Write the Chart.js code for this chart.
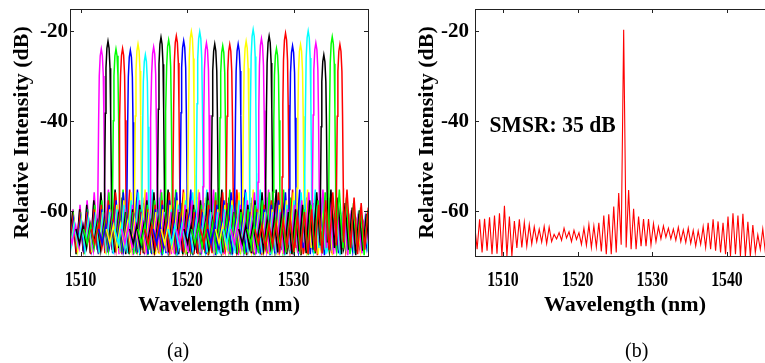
<!DOCTYPE html>
<html>
<head>
<meta charset="utf-8">
<script src="https://cdn.jsdelivr.net/npm/chart.js@4.4.1/dist/chart.umd.min.js"></script>
<style>
  html, body { margin: 0; padding: 0; background: #fff; overflow: hidden; }
  #wrap { position: relative; width: 765px; height: 363px; overflow: hidden; background: #fff; }
  #ca { position: absolute; left: 0; top: 0; }
  #cb { position: absolute; left: 380px; top: 0; }
  .cap { position: absolute; top: 338px; font: 20px "Liberation Serif", "Times New Roman", serif; line-height: 24px; color: #000; }
</style>
</head>
<body>
<div id="wrap">
  <canvas id="ca" width="380" height="363"></canvas>
  <canvas id="cb" width="400" height="363"></canvas>
  <div class="cap" style="left:167px">(a)</div>
  <div class="cap" style="left:625px">(b)</div>
</div>
<script>
// ---- data ----

// (a) 32 lasing channels: centre wavelength (nm) and peak level (dB)
const CHANNEL_NM = [1511.94, 1512.57, 1513.32, 1513.94, 1514.67, 1515.39, 1516.08, 1516.86,
  1517.55, 1518.27, 1518.99, 1519.68, 1520.40, 1521.19, 1521.82, 1522.60,
  1523.35, 1524.01, 1524.80, 1525.55, 1526.21, 1526.99, 1527.71, 1528.40,
  1529.25, 1529.91, 1530.66, 1531.38, 1532.10, 1532.85, 1533.64, 1534.36];
const CHANNEL_PEAK_DB = [-23.9, -22.2, -23.9, -23.8, -24.2, -22.8, -25.2, -23.5,
  -21.3, -21.9, -21.0, -22.1, -20.0, -20.1, -22.6, -22.8,
  -23.2, -22.9, -22.8, -22.2, -19.6, -21.6, -21.0, -23.8,
  -20.4, -23.2, -22.9, -19.9, -22.6, -25.2, -21.2, -22.9];
// matlab colour order used in the plot: m k g r b y c
const CHANNEL_COLORS = ["#ff00ff", "#000000", "#00ff00", "#ff0000", "#0000ff", "#ffff00", "#00ffff"];

// main lobe of one channel: offset from centre (nm) and drop below its peak (dB)
const LOBE_OFFSET_NM = [-0.32, -0.25, -0.19, -0.1, 0, 0.1, 0.19, 0.25, 0.32];
const LOBE_DROP_DB = [32, 16, 6, 1.5, 0, 1.5, 6, 16, 32];

// ringing either side of a channel, dB, one value every half period
const RING_STEP_NM = 0.333;
const RING_LEFT_DB = [-67.5, -55.8, -68.6, -57.6, -69.4, -58.6, -69.0, -59.6, -69.6, -60.2, -68.4, -61.0,
  -69.2, -61.6, -68.0, -62.0, -68.8, -62.6, -67.6, -63.0, -68.2, -63.2, -67.2, -64.0];
const RING_RIGHT_DB = [-67.0, -55.2, -68.2, -57.0, -69.6, -58.2, -68.6, -59.2, -69.8, -59.8, -68.8, -60.6,
  -69.4, -61.4, -68.2, -61.8, -69.0, -62.4, -67.8, -62.8, -68.4, -63.4, -67.4, -63.8];

// (b) single channel spectrum, sampled every half ripple period
const SPEC_B_START_NM = 1506.2;
const SPEC_B_STEP_NM = 0.3327;
const SPEC_B_DB = [
  -63.0, -68.5, -61.8, -69.2, -61.7, -68.8, -61.4, -69.6, -61.0, -69.5,
  -60.5, -70.0, -58.8, -70.0, -61.2, -70.0, -62.2, -68.2, -61.8, -68.1,
  -62.5, -67.8, -63.0, -67.3, -63.5, -66.8, -64.0, -66.9, -63.4, -67.2,
  -63.6, -66.8, -65.2, -66.2, -64.8, -66.5, -63.8, -66.0, -64.6, -66.8,
  -64.3, -66.3, -64.8, -67.4, -63.8, -67.6, -63.0, -68.1, -63.3, -68.0,
  -62.6, -69.0, -61.0, -69.6, -60.7, -69.6, -59.0, -69.2, -56.0, -67.5,
  -19.6,
  -68.1, -55.3, -68.5, -59.5, -68.5, -61.2, -67.8, -61.8, -67.8, -61.8,
  -67.5, -62.8, -66.8, -63.5, -66.2, -63.3, -65.8, -63.8, -66.2, -64.0,
  -66.5, -63.6, -66.8, -64.2, -67.0, -63.8, -67.2, -64.3, -67.8, -64.4,
  -67.4, -63.5, -68.1, -62.6, -68.5, -61.8, -68.8, -62.3, -69.2, -62.6,
  -69.6, -61.2, -70.0, -60.5, -69.6, -61.0, -70.0, -60.6, -70.0, -62.4,
  -70.0, -63.1, -69.2, -65.3, -68.5, -64.0, -69.0, -63.5, -68.5, -64.0];

const XTICKS_A = [1510, 1520, 1530];
const XTICKS_B = [1510, 1520, 1530, 1540];
const YTICKS = [-60, -40, -20];
const SMSR_TEXT = "SMSR: 35 dB";
const SMSR_AT = [1508.2, -41];

// ---- chart setup ----
const SERIF = '"Liberation Serif", "Times New Roman", serif';
Chart.defaults.font.family = SERIF;
Chart.defaults.color = "#000";

function channelTrace(i) {
  const c = CHANNEL_NM[i];
  const p = CHANNEL_PEAK_DB[i];
  const pts = [];
  for (let j = RING_LEFT_DB.length; j >= 1; j--) {
    pts.push({ x: c - j * RING_STEP_NM, y: RING_LEFT_DB[j - 1] });
  }
  LOBE_OFFSET_NM.forEach((o, k) => pts.push({ x: c + o, y: p - LOBE_DROP_DB[k] }));
  RING_RIGHT_DB.forEach((v, j) => pts.push({ x: c + (j + 1) * RING_STEP_NM, y: v }));
  return pts;
}

// draw text squeezed sideways, the figure's fonts are narrow
function narrowText(ctx, text, x, y, squeeze) {
  ctx.save();
  ctx.translate(x, y);
  ctx.scale(squeeze, 1);
  ctx.fillText(text, 0, 0);
  ctx.restore();
}

// box round the plot with matlab style inward ticks, plus the x tick labels
const framePlugin = {
  id: "frame",
  afterDatasetsDraw(chart) {
    const { ctx, chartArea: a, scales: { x, y } } = chart;
    const len = 4;
    ctx.save();
    ctx.strokeStyle = "#222";
    ctx.lineWidth = 1;
    ctx.strokeRect(a.left + 0.5, a.top + 0.5, a.right - a.left, a.bottom - a.top);
    ctx.beginPath();
    x.ticks.forEach(t => {
      const px = Math.round(x.getPixelForValue(t.value)) + 0.5;
      ctx.moveTo(px, a.bottom); ctx.lineTo(px, a.bottom - len);
      ctx.moveTo(px, a.top); ctx.lineTo(px, a.top + len);
    });
    y.ticks.forEach(t => {
      const py = Math.round(y.getPixelForValue(t.value)) + 0.5;
      ctx.moveTo(a.left, py); ctx.lineTo(a.left + len, py);
      ctx.moveTo(a.right, py); ctx.lineTo(a.right - len, py);
    });
    ctx.stroke();

    ctx.font = "bold 21px " + SERIF;
    ctx.fillStyle = "#000";
    ctx.textAlign = "center";
    ctx.textBaseline = "alphabetic";
    x.ticks.forEach(t => narrowText(ctx, String(t.value), x.getPixelForValue(t.value), a.bottom + 30, 0.75));
    ctx.restore();
  }
};

const smsrPlugin = {
  id: "smsr",
  afterDatasetsDraw(chart) {
    if (!chart.options.plugins.smsr.show) return;
    const { ctx, scales: { x, y } } = chart;
    ctx.save();
    ctx.font = "bold 24px " + SERIF;
    ctx.fillStyle = "#000";
    ctx.textAlign = "left";
    ctx.textBaseline = "middle";
    narrowText(ctx, SMSR_TEXT, x.getPixelForValue(SMSR_AT[0]), y.getPixelForValue(SMSR_AT[1]), 0.9);
    ctx.restore();
  }
};

function makeOptions({ xmin, xmax, xticks, yWidth, yTitlePad, yTickPad, right, smsr }) {
  return {
    responsive: false,
    animation: false,
    devicePixelRatio: 1,
    layout: { padding: { left: 0, right: right, top: 9, bottom: 41 } },
    elements: { point: { radius: 0 }, line: { tension: 0 } },
    plugins: { legend: { display: false }, tooltip: { enabled: false }, smsr: { show: smsr } },
    scales: {
      x: {
        type: "linear",
        min: xmin,
        max: xmax,
        afterBuildTicks: s => { s.ticks = xticks.map(v => ({ value: v })); },
        afterFit: s => { s.height = 66; s.paddingLeft = 0; s.paddingRight = 0; },
        grid: { display: false, drawTicks: false },
        border: { display: false },
        ticks: { display: false },
        title: { display: true, text: "Wavelength (nm)", font: { size: 22, weight: "bold" }, padding: { top: 0, bottom: 3 } }
      },
      y: {
        min: -70,
        max: -15,
        afterBuildTicks: s => { s.ticks = YTICKS.map(v => ({ value: v })); },
        afterFit: s => { s.width = yWidth; s.paddingTop = 0; s.paddingBottom = 0; },
        grid: { display: false, drawTicks: false },
        border: { display: false },
        ticks: { font: { size: 21, weight: "bold" }, padding: yTickPad, callback: v => String(v) },
        title: { display: true, text: "Relative Intensity (dB)", font: { size: 22, weight: "bold" }, padding: { top: yTitlePad, bottom: 0 } }
      }
    }
  };
}

new Chart(document.getElementById("ca").getContext("2d"), {
  type: "line",
  data: {
    datasets: CHANNEL_NM.map((c, i) => ({
      label: "ch" + (i + 1),
      data: channelTrace(i),
      borderColor: CHANNEL_COLORS[i % CHANNEL_COLORS.length],
      borderWidth: 1.5,
      order: -i
    }))
  },
  options: makeOptions({ xmin: 1509, xmax: 1537, xticks: XTICKS_A, yWidth: 70, yTitlePad: 9, yTickPad: 2, right: 12, smsr: false }),
  plugins: [framePlugin, smsrPlugin]
});

new Chart(document.getElementById("cb").getContext("2d"), {
  type: "line",
  data: {
    datasets: [{
      label: "spectrum",
      data: SPEC_B_DB.map((v, k) => ({ x: SPEC_B_START_NM + k * SPEC_B_STEP_NM, y: v })),
      borderColor: "#ff0000",
      borderWidth: 1.1
    }]
  },
  options: makeOptions({ xmin: 1506.25, xmax: 1546.43, xticks: XTICKS_B, yWidth: 95, yTitlePad: 34, yTickPad: 6, right: 5, smsr: true }),
  plugins: [framePlugin, smsrPlugin]
});
</script>
</body>
</html>
